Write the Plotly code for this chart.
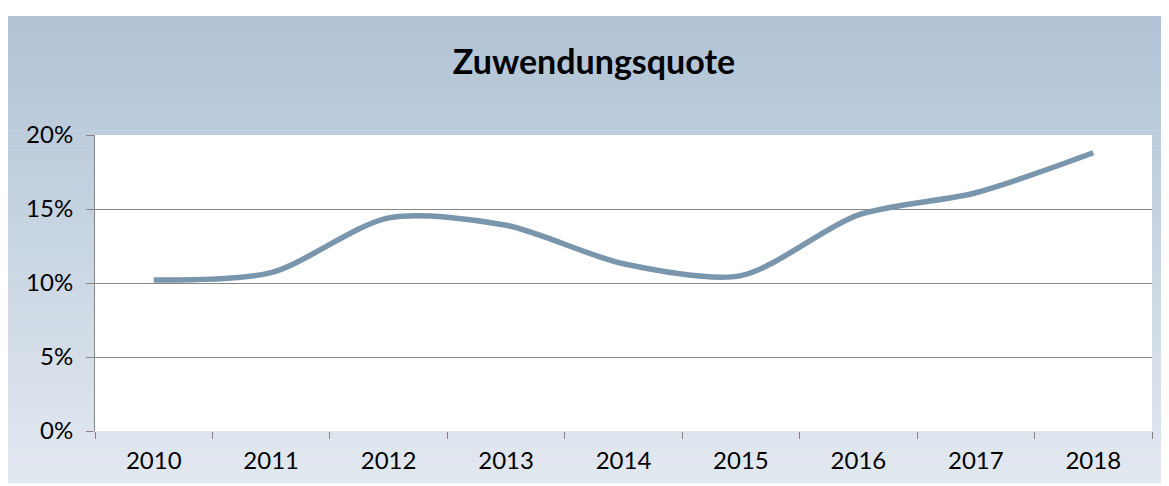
import plotly.graph_objects as go

years = ["2010", "2011", "2012", "2013", "2014", "2015", "2016", "2017", "2018"]
quote = [0.102, 0.107, 0.144, 0.139, 0.113, 0.105, 0.146, 0.161, 0.188]
y_ticks = [0, 0.05, 0.10, 0.15, 0.20]

# the page body adds an 8px offset; coordinates below are in figure pixels
W, H = 1169, 486
L, R, T, B = 87, 25, 127, 63
pw, ph = W - L - R, H - T - B

def px2paper_x(px):
    return (px - L) / pw

def px2paper_y(py):
    return (H - B - py) / ph

top_c = (176, 195, 213)
bot_c = (226, 232, 240)
bg_x0, bg_x1, bg_y0, bg_y1 = -2, 1169, 8, 475
shapes = []
n = 94
step = (bg_y1 - bg_y0) / n
for i in range(n):
    t = i / (n - 1)
    c = tuple(round(top_c[k] + (bot_c[k] - top_c[k]) * t) for k in range(3))
    y0 = bg_y0 + i * step
    y1 = y0 + step + 0.6
    shapes.append(dict(type="rect", xref="paper", yref="paper",
                       x0=px2paper_x(bg_x0), x1=px2paper_x(bg_x1),
                       y0=px2paper_y(min(y1, bg_y1)), y1=px2paper_y(y0),
                       fillcolor="rgb(%d,%d,%d)" % c, line_width=0, layer="below"))
shapes.append(dict(type="rect", xref="paper", yref="paper", x0=0, x1=1, y0=0, y1=1,
                   fillcolor="white", line_width=0, layer="below"))

fig = go.Figure()
fig.add_trace(go.Scatter(
    x=list(range(len(years))), y=quote, mode="lines",
    line=dict(color="#7a96ad", width=5.5, shape="spline", smoothing=0.8),
    hoverinfo="skip", showlegend=False))

font = "Lato, 'Open Sans', sans-serif"
fig.update_layout(
    width=W, height=H,
    margin=dict(l=L, r=R, t=T, b=B),
    paper_bgcolor="white", plot_bgcolor="white",
    shapes=shapes,
    title=dict(text="<b>Zuwendungsquote</b>", x=586 / W,
               xanchor="center", y=1 - 54 / H, yanchor="middle",
               font=dict(family=font, size=34, color="black")),
    font=dict(family=font, size=24, color="black"),
    xaxis=dict(range=[-0.5, len(years) - 0.5], tickvals=list(range(len(years))),
               ticktext=years, ticks="", showgrid=False, zeroline=False,
               showline=False, ticklabelstandoff=13,
               minor=dict(tickvals=[i - 0.5 for i in range(len(years) + 1)],
                          ticks="outside", ticklen=7, tickcolor="#868686",
                          tickwidth=1, showgrid=False)),
    yaxis=dict(range=[0, 0.2], tickvals=y_ticks, tickformat=".0%",
               ticks="outside", ticklen=8, tickcolor="#868686",
               showgrid=True, gridcolor="#868686", gridwidth=1,
               zeroline=False, showline=True, linecolor="#868686", linewidth=1,
               ticklabelstandoff=8),
)

fig.write_html("out.html")
